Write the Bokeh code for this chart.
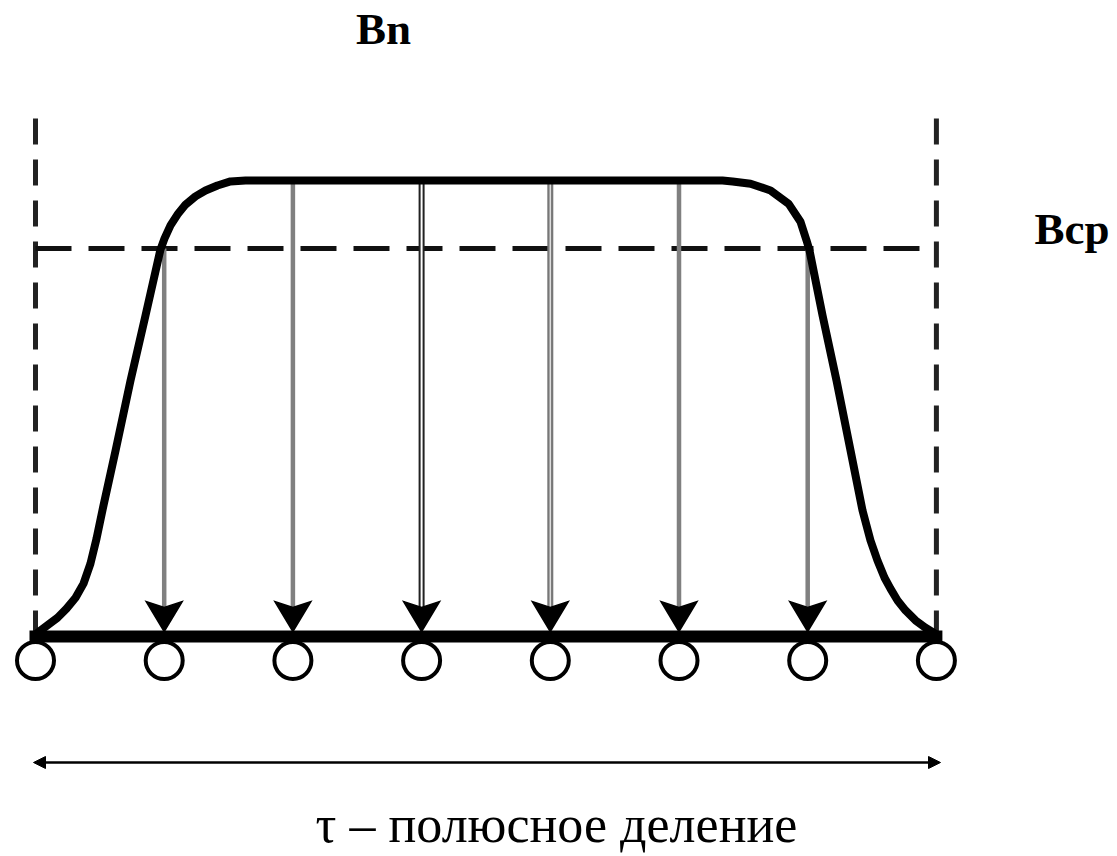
import numpy as np
from bokeh.plotting import figure
from bokeh.models import Range1d, Arrow, NormalHead, Label
from bokeh.core.properties import value
from bokeh.embed import file_html
from bokeh.resources import INLINE

# ---------------- data ----------------
# x: position along the pole pitch (in conductor spacings), B: flux density relative to B max
pole_marks = [0, 1, 2, 3, 4, 5, 6, 7]
curve_x = [0.0, 0.039, 0.101, 0.171, 0.241, 0.311, 0.373, 0.427, 0.474, 0.528,
           0.622, 0.738, 0.855, 0.971, 1.002, 1.049, 1.103, 1.166, 1.243, 1.321,
           1.414, 1.515, 1.632,
           5.338, 5.416, 5.556, 5.711, 5.851, 5.944, 5.991, 6.014, 6.115, 6.224,
           6.333, 6.426, 6.488, 6.542, 6.597, 6.643, 6.698, 6.760, 6.838, 6.915, 7.0]
curve_b = [0.0, 0.009, 0.022, 0.037, 0.057, 0.081, 0.112, 0.156, 0.211, 0.284,
           0.405, 0.559, 0.703, 0.848, 0.872, 0.901, 0.925, 0.947, 0.965, 0.978,
           0.989, 0.998, 1.0,
           1.0, 0.998, 0.993, 0.978, 0.949, 0.909, 0.868, 0.846, 0.703, 0.559,
           0.405, 0.273, 0.207, 0.163, 0.125, 0.101, 0.075, 0.053, 0.031, 0.015, 0.0]
arrow_x = [1, 2, 3, 4, 5, 6]
arrow_b = [0.85, 1.0, 1.0, 1.0, 1.0, 0.85]
b_avg = 0.85
label_max = "Bn"
label_avg = "Bср"
label_pitch = "τ – полюсное деление"

# ---------------- layout helpers (screen pixel -> data) ----------------
SX, X0 = 128.7, 35.0
SY, Y0 = 454.0, 634.0
W, H = 1112, 856
def ux(px):
    return (px - X0) / SX
def uy(py):
    return (Y0 - py) / SY

p = figure(width=W, height=H, output_backend="svg", toolbar_location=None,
           x_range=Range1d(ux(0), ux(W)), y_range=Range1d(uy(H), uy(0)),
           x_axis_location=None, y_axis_location=None, min_border=0,
           background_fill_color="white", border_fill_color="white")
p.grid.visible = False
p.outline_line_color = None

# dashed frame lines
top_dash = uy(118)
for xv in (pole_marks[0], pole_marks[-1]):
    p.line([xv, xv], [top_dash, 0], line_color="#222222", line_width=5, line_dash="26 15")
p.line([pole_marks[0], pole_marks[-1]], [b_avg, b_avg], line_color="#111111",
       line_width=5, line_dash="36 17")

# arrows (conductors)
tip = uy(631)
hl = 30 / SY
hw = 18 / SX
notch = 6 / SY
for xv, bv in zip(arrow_x, arrow_b):
    if xv == 3:
        p.line([xv, xv], [bv, tip + hl * 0.5], line_color="#222222", line_width=6)
        p.line([xv, xv], [bv, tip + hl * 0.5], line_color="white", line_width=2)
    elif xv == 4:
        p.line([xv, xv], [bv, tip + hl * 0.5], line_color="#777777", line_width=6)
        p.line([xv, xv], [bv, tip + hl * 0.5], line_color="#dddddd", line_width=1.5)
    else:
        p.line([xv, xv], [bv, tip + hl * 0.5], line_color="#808080", line_width=4.5)
hx = [[xv, xv - hw, xv, xv + hw] for xv in arrow_x]
hy = [[tip, tip + hl, tip + hl - notch, tip + hl] for _ in arrow_x]
p.patches(hx, hy, fill_color="black", line_color="black", line_width=1.5, line_join="miter")

# flux curve
p.line(curve_x, curve_b, line_color="black", line_width=8, line_join="round", line_cap="round")

# circles (poles) and base line
p.scatter(pole_marks, [uy(660)] * len(pole_marks), size=37, marker="circle",
          fill_color="white", line_color="black", line_width=4)
p.line([pole_marks[0], pole_marks[-1]], [uy(636), uy(636)], line_color="black",
       line_width=12, line_cap="square")

# pole pitch double arrow
p.add_layout(Arrow(x_start=ux(33), y_start=uy(762), x_end=ux(940), y_end=uy(762),
                   line_color="black", line_width=2.5,
                   start=NormalHead(size=12, fill_color="black", line_color="black"),
                   end=NormalHead(size=12, fill_color="black", line_color="black")))

# texts
p.add_layout(Label(x=ux(383), y=uy(28), text=label_max, text_align="center",
                   text_baseline="alphabetic", text_font="Liberation Serif",
                   text_font_style="bold", text_font_size="45px", text_color="black"))
p.add_layout(Label(x=ux(1034), y=uy(228), text=label_avg, text_align="left",
                   text_baseline="alphabetic", text_font="Liberation Serif",
                   text_font_style="bold", text_font_size="45px", text_color="black"))
p.add_layout(Label(x=ux(556), y=uy(824), text=label_pitch, text_align="center",
                   text_baseline="alphabetic", text_font="Liberation Serif",
                   text_font_size="52px", text_color="black"))

open("out.html", "w").write(file_html(p, INLINE))
